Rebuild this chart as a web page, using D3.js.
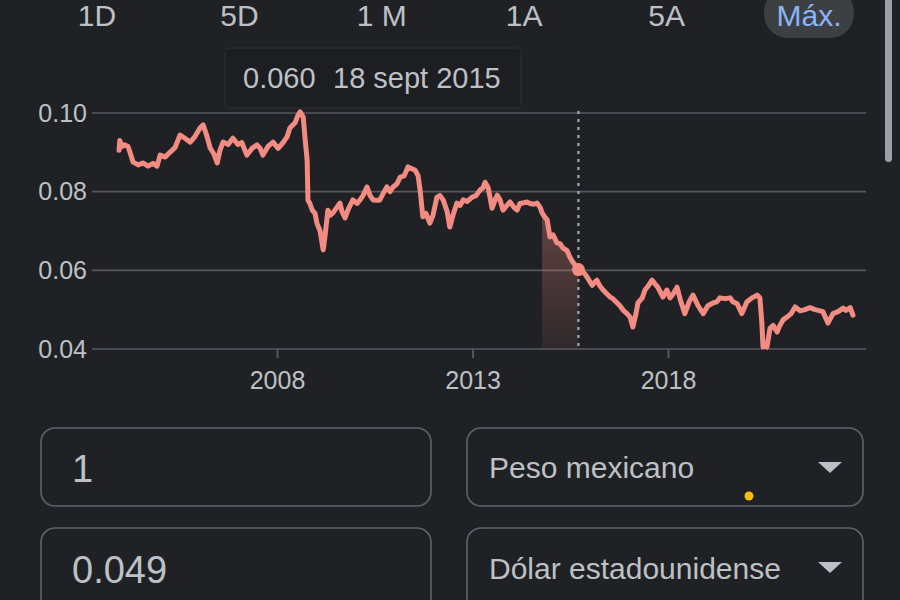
<!DOCTYPE html>
<html>
<head>
<meta charset="utf-8">
<script src="https://cdn.jsdelivr.net/npm/d3@7"></script>
<style>
  html, body { margin: 0; padding: 0; background: #202124; overflow: hidden; }
  svg { display: block; }
  text { font-family: "Liberation Sans", Arial, Helvetica, sans-serif; }
</style>
</head>
<body>
<svg id="chart" width="900" height="600"></svg>
<script>
// ---------- DATA ----------
const tabLabels = ["1D", "5D", "1 M", "1A", "5A", "Máx."];
const activeTab = "Máx.";

// decimal years
const years = [
  2003.96, 2003.98, 2004.04, 2004.11, 2004.19, 2004.24, 2004.32, 2004.45, 2004.57, 2004.70,
  2004.83, 2004.93, 2005.01, 2005.14, 2005.26, 2005.39, 2005.52, 2005.65, 2005.78, 2005.90,
  2006.03, 2006.11, 2006.21, 2006.29, 2006.39, 2006.47, 2006.54, 2006.62, 2006.75, 2006.87,
  2007.00, 2007.10, 2007.23, 2007.36, 2007.49, 2007.57, 2007.64, 2007.77, 2007.90, 2008.03,
  2008.15, 2008.26, 2008.33, 2008.46, 2008.54, 2008.59, 2008.67, 2008.72, 2008.77, 2008.79,
  2008.84, 2008.90, 2008.97, 2009.02, 2009.10, 2009.18, 2009.23, 2009.30, 2009.36, 2009.43,
  2009.53, 2009.61, 2009.66, 2009.74, 2009.82, 2009.94, 2010.05, 2010.12, 2010.20, 2010.30,
  2010.38, 2010.46, 2010.56, 2010.63, 2010.74, 2010.81, 2010.89, 2010.97, 2011.07, 2011.15,
  2011.25, 2011.35, 2011.45, 2011.53, 2011.61, 2011.66, 2011.73, 2011.81, 2011.91, 2011.99,
  2012.09, 2012.17, 2012.25, 2012.35, 2012.42, 2012.50, 2012.60, 2012.68, 2012.76, 2012.86,
  2012.99, 2013.09, 2013.19, 2013.27, 2013.32, 2013.40, 2013.50, 2013.58, 2013.63, 2013.70,
  2013.78, 2013.88, 2013.96, 2014.06, 2014.14, 2014.21, 2014.32, 2014.39, 2014.47, 2014.57,
  2014.65, 2014.73, 2014.78, 2014.85, 2014.91, 2014.98, 2015.06, 2015.16, 2015.24, 2015.31,
  2015.42, 2015.49, 2015.57, 2015.67, 2015.71, 2015.80, 2015.88, 2015.93, 2016.01, 2016.06,
  2016.13, 2016.18, 2016.26, 2016.34, 2016.44, 2016.52, 2016.59, 2016.70, 2016.77, 2016.85,
  2016.95, 2017.03, 2017.10, 2017.18, 2017.23, 2017.34, 2017.41, 2017.49, 2017.59, 2017.67,
  2017.74, 2017.87, 2017.97, 2018.05, 2018.13, 2018.23, 2018.33, 2018.43, 2018.54, 2018.64,
  2018.77, 2018.90, 2019.02, 2019.15, 2019.25, 2019.33, 2019.46, 2019.59, 2019.66, 2019.77,
  2019.89, 2020.02, 2020.15, 2020.28, 2020.35, 2020.40, 2020.43, 2020.48, 2020.53, 2020.61,
  2020.69, 2020.79, 2020.86, 2020.94, 2021.04, 2021.15, 2021.25, 2021.38, 2021.50, 2021.63,
  2021.76, 2021.89, 2021.96, 2022.09, 2022.22, 2022.35, 2022.48, 2022.55, 2022.66, 2022.73
];
// USD per MXN
const rates = [
  0.0905, 0.0930, 0.0915, 0.0919, 0.0915, 0.0900, 0.0875, 0.0868, 0.0873, 0.0865,
  0.0872, 0.0865, 0.0893, 0.0888, 0.0900, 0.0912, 0.0944, 0.0935, 0.0926, 0.0940,
  0.0962, 0.0970, 0.0940, 0.0911, 0.0895, 0.0873, 0.0905, 0.0926, 0.0920, 0.0936,
  0.0920, 0.0925, 0.0893, 0.0910, 0.0919, 0.0910, 0.0893, 0.0915, 0.0926, 0.0910,
  0.0924, 0.0940, 0.0962, 0.0975, 0.0995, 0.1003, 0.0990, 0.0931, 0.0880, 0.0779,
  0.0770, 0.0753, 0.0745, 0.0720, 0.0700, 0.0652, 0.0690, 0.0753, 0.0740, 0.0746,
  0.0760, 0.0771, 0.0750, 0.0733, 0.0755, 0.0779, 0.0770, 0.0779, 0.0790, 0.0812,
  0.0790, 0.0779, 0.0778, 0.0779, 0.0800, 0.0812, 0.0800, 0.0812, 0.0820, 0.0837,
  0.0840, 0.0863, 0.0858, 0.0855, 0.0840, 0.0804, 0.0736, 0.0745, 0.0720, 0.0740,
  0.0786, 0.0790, 0.0779, 0.0750, 0.0710, 0.0740, 0.0771, 0.0765, 0.0779, 0.0775,
  0.0786, 0.0790, 0.0804, 0.0810, 0.0824, 0.0810, 0.0758, 0.0780, 0.0791, 0.0780,
  0.0753, 0.0765, 0.0774, 0.0760, 0.0753, 0.0770, 0.0772, 0.0774, 0.0770, 0.0768,
  0.0771, 0.0760, 0.0746, 0.0735, 0.0728, 0.0685, 0.0690, 0.0670, 0.0668, 0.0657,
  0.0650, 0.0634, 0.0620, 0.0608, 0.0602, 0.0600, 0.0590, 0.0583, 0.0570, 0.0562,
  0.0570, 0.0575, 0.0560, 0.0550, 0.0540, 0.0532, 0.0528, 0.0517, 0.0510, 0.0499,
  0.0490, 0.0481, 0.0456, 0.0490, 0.0517, 0.0530, 0.0550, 0.0560, 0.0575, 0.0565,
  0.0557, 0.0532, 0.0550, 0.0530, 0.0540, 0.0557, 0.0520, 0.0490, 0.0520, 0.0537,
  0.0510, 0.0490, 0.0510, 0.0517, 0.0520, 0.0530, 0.0528, 0.0530, 0.0520, 0.0515,
  0.0490, 0.0520, 0.0530, 0.0537, 0.0530, 0.0466, 0.0405, 0.0410, 0.0405, 0.0453,
  0.0460, 0.0443, 0.0460, 0.0474, 0.0481, 0.0490, 0.0507, 0.0497, 0.0500, 0.0505,
  0.0500, 0.0497, 0.0495, 0.0466, 0.0490, 0.0495, 0.0504, 0.0498, 0.0505, 0.0486
];

const yTicks = [0.04, 0.06, 0.08, 0.10];
const xTickYears = [2008, 2013, 2018];

const tooltipValue = "0.060";
const tooltipDate = "18 sept 2015";
const markerYear = 2015.71;      // 18 sept 2015
const highlightStartYear = 2014.78;

const amountFrom = "1";
const currencyFrom = "Peso mexicano";
const amountTo = "0.049";
const currencyTo = "Dólar estadounidense";

// ---------- HELPERS ----------
function toDate(y) {
  const yr = Math.floor(y);
  const s = Date.UTC(yr, 0, 1), e = Date.UTC(yr + 1, 0, 1);
  return new Date(s + (y - yr) * (e - s));
}
const data = years.map((y, i) => ({ date: toDate(y), yv: y, v: rates[i] }));

const svg = d3.select("#chart");
const BG = "#202124";
const LINE = "#f28b82";
const GRID = "#55585d";
const TXT = "#bdc1c6";

svg.append("rect").attr("width", 900).attr("height", 600).attr("fill", BG);

// ---------- SCALES ----------
const x = d3.scaleUtc()
  .domain([toDate(2003.2685), toDate(2023.064)])
  .range([92, 866]);
const y = d3.scaleLinear().domain([0.04, 0.10]).range([349, 113]);

// ---------- TABS ----------
const tabX = d3.scalePoint().domain(tabLabels).range([97, 809]);
svg.append("rect")
  .attr("x", tabX(activeTab) - 45).attr("y", -12)
  .attr("width", 90).attr("height", 50).attr("rx", 24)
  .attr("fill", "#3c4043");
svg.append("g").selectAll("text").data(tabLabels).join("text")
  .attr("x", d => tabX(d)).attr("y", 26)
  .attr("text-anchor", "middle")
  .attr("font-size", 30)
  .attr("fill", d => d === activeTab ? "#8ab4f8" : TXT)
  .text(d => d);

// ---------- GRID ----------
svg.append("g").selectAll("line").data(yTicks).join("line")
  .attr("x1", 92).attr("x2", 866)
  .attr("y1", d => y(d)).attr("y2", d => y(d))
  .attr("stroke", GRID).attr("stroke-width", 1.6);

// y axis labels
const yAxis = svg.append("g").attr("transform", "translate(92,0)")
  .call(d3.axisLeft(y).tickValues(yTicks).tickFormat(d3.format(".2f")).tickSize(0).tickPadding(5));
yAxis.select(".domain").remove();
yAxis.selectAll("text").attr("font-size", 25).attr("fill", TXT)
  .attr("font-family", "Liberation Sans, Arial, sans-serif");

// x axis
const xAxis = svg.append("g").attr("transform", "translate(0,349)")
  .call(d3.axisBottom(x).tickValues(xTickYears.map(toDate))
    .tickFormat(d3.utcFormat("%Y")).tickSize(9).tickPadding(13));
xAxis.select(".domain").remove();
xAxis.selectAll("line").attr("stroke", GRID).attr("stroke-width", 2);
xAxis.selectAll("text").attr("font-size", 25).attr("fill", TXT)
  .attr("font-family", "Liberation Sans, Arial, sans-serif");

// ---------- HIGHLIGHT AREA ----------
const defs = svg.append("defs");
const grad = defs.append("linearGradient").attr("id", "hl")
  .attr("gradientUnits", "userSpaceOnUse")
  .attr("x1", 0).attr("x2", 0).attr("y1", 210).attr("y2", 349);
grad.append("stop").attr("offset", 0).attr("stop-color", LINE).attr("stop-opacity", 0.33);
grad.append("stop").attr("offset", 1).attr("stop-color", LINE).attr("stop-opacity", 0.07);

const hlData = data.filter(d => d.yv >= highlightStartYear && d.yv <= markerYear);
svg.append("path").datum(hlData)
  .attr("fill", "url(#hl)")
  .attr("d", d3.area().x(d => x(d.date)).y0(y(0.04)).y1(d => y(d.v)));

// ---------- DASHED MARKER LINE ----------
svg.append("line")
  .attr("x1", x(toDate(markerYear))).attr("x2", x(toDate(markerYear)))
  .attr("y1", 111).attr("y2", 349)
  .attr("stroke", "#9aa0a6").attr("stroke-width", 2.4)
  .attr("stroke-dasharray", "3,5");

// ---------- LINE ----------
svg.append("path").datum(data)
  .attr("fill", "none")
  .attr("stroke", LINE)
  .attr("stroke-width", 5)
  .attr("stroke-linejoin", "round")
  .attr("stroke-linecap", "round")
  .attr("d", d3.line().x(d => x(d.date)).y(d => y(d.v)));

// marker dot
const mk = data.find(d => d.yv === markerYear);
svg.append("circle")
  .attr("cx", x(mk.date)).attr("cy", y(mk.v)).attr("r", 6.5)
  .attr("fill", LINE);

// ---------- TOOLTIP ----------
const tip = svg.append("g");
tip.append("rect")
  .attr("x", 225).attr("y", 48).attr("width", 296).attr("height", 60).attr("rx", 4)
  .attr("fill", "#1d1e21").attr("stroke", "#26272b").attr("stroke-width", 2);
const tt = tip.append("text").attr("x", 243).attr("y", 88).attr("font-size", 29).attr("fill", TXT);
tt.append("tspan").text(tooltipValue);
tt.append("tspan").attr("x", 333).text(tooltipDate);

// ---------- CONVERTER INPUTS ----------
const boxes = [
  { x: 41, y: 428, w: 390, h: 78 },
  { x: 467, y: 428, w: 396, h: 78 },
  { x: 41, y: 528, w: 390, h: 90 },
  { x: 467, y: 528, w: 396, h: 90 }
];
svg.append("g").selectAll("rect").data(boxes).join("rect")
  .attr("x", d => d.x).attr("y", d => d.y)
  .attr("width", d => d.w).attr("height", d => d.h).attr("rx", 14)
  .attr("fill", "none").attr("stroke", "#5f6368").attr("stroke-width", 1.6);

svg.append("text").attr("x", 72).attr("y", 482).attr("font-size", 38).attr("fill", TXT).text(amountFrom);
svg.append("text").attr("x", 72).attr("y", 583).attr("font-size", 38).attr("fill", TXT).text(amountTo);
svg.append("text").attr("x", 489).attr("y", 478).attr("font-size", 30).attr("fill", TXT).text(currencyFrom);
svg.append("text").attr("x", 489).attr("y", 579).attr("font-size", 30).attr("fill", TXT).text(currencyTo);

[462, 562].forEach(ty => {
  svg.append("path")
    .attr("d", `M818,${ty} L842,${ty} L830,${ty + 11} Z`)
    .attr("fill", TXT);
});
svg.append("circle").attr("cx", 749).attr("cy", 496).attr("r", 4.5).attr("fill", "#fbbc04");

// ---------- SCROLLBAR ----------
svg.append("rect").attr("x", 885).attr("y", -10).attr("width", 7).attr("height", 172)
  .attr("rx", 3.5).attr("fill", "#9aa0a6");
</script>
</body>
</html>
